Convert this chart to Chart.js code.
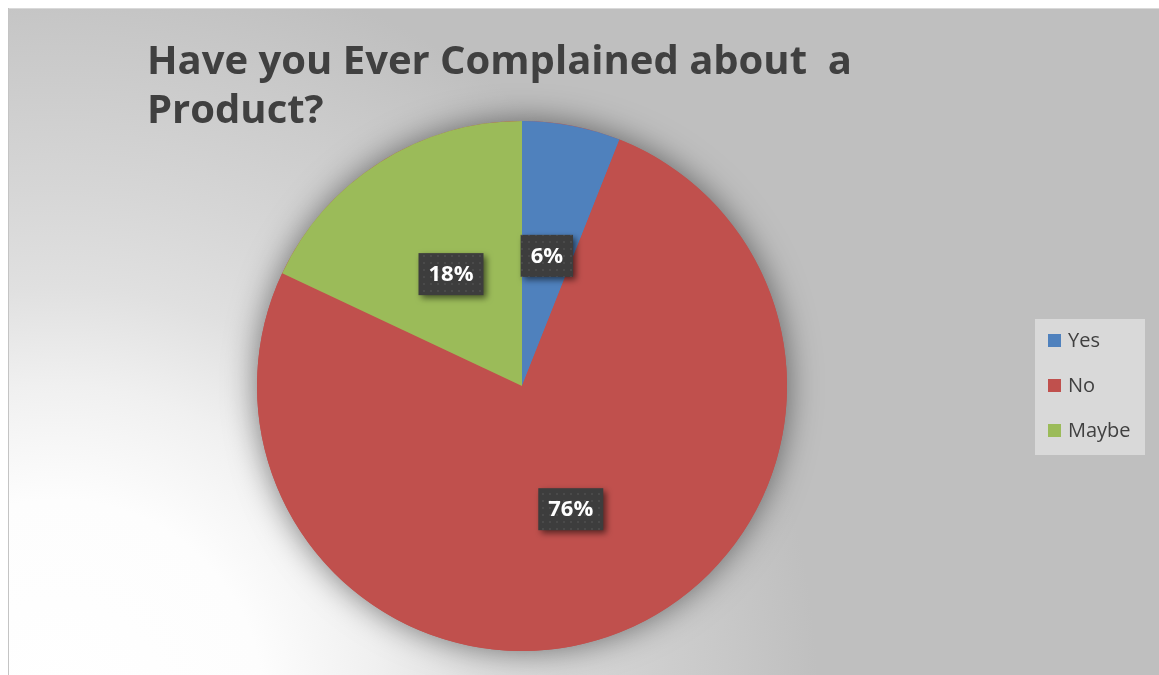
<!DOCTYPE html>
<html>
<head>
<meta charset="utf-8">
<title>Have you Ever Complained about a Product?</title>
<script src="https://cdn.jsdelivr.net/npm/chart.js@4.4.1/dist/chart.umd.min.js"></script>
<style>
  html, body { margin: 0; padding: 0; background: #fff; }
  #wrap { position: absolute; left: 8px; top: 8px; width: 1151px; height: 667px; }
</style>
</head>
<body>
<div id="wrap"><canvas id="chartCanvas"></canvas></div>
<script>
// survey answers
const categories = ['Yes', 'No', 'Maybe'];
const responses = [6, 76, 18];
const sliceColors = ['#4F81BD', '#C0504D', '#9BBB59'];
const titleLines = ['Have you Ever Complained about  a', 'Product?'];

const FONT = '"Open Sans", "Liberation Sans", sans-serif';
const TEXT_COLOR = '#404040';

// grey panel fading to white towards the lower left corner
const panelBackground = {
  id: 'panelBackground',
  beforeDraw(chart) {
    const { ctx, width, height } = chart;
    ctx.save();
    const g = ctx.createRadialGradient(50, height + 30, 0, 50, height + 30, 760);
    g.addColorStop(0, '#ffffff');
    g.addColorStop(0.27, '#fdfdfd');
    g.addColorStop(0.42, '#f0f0f0');
    g.addColorStop(0.55, '#e0e0e0');
    g.addColorStop(0.68, '#d6d6d6');
    g.addColorStop(0.88, '#c8c8c8');
    g.addColorStop(1, '#bfbfbf');
    ctx.fillStyle = g;
    ctx.fillRect(0, 0, width, height);
    ctx.fillStyle = '#d9d9d9';
    ctx.fillRect(0, 0, width, 1);
    ctx.fillStyle = '#c4c4c4';
    ctx.fillRect(0, 0, 1, height);
    ctx.restore();
  }
};

// soft glow under the whole pie
const pieShadow = {
  id: 'pieShadow',
  beforeDatasetsDraw(chart) {
    const arc = chart.getDatasetMeta(0).data[0];
    if (!arc) return;
    const { ctx } = chart;
    ctx.save();
    ctx.shadowColor = 'rgba(0,0,0,0.5)';
    ctx.shadowBlur = 32;
    ctx.fillStyle = sliceColors[1];
    ctx.beginPath();
    ctx.arc(arc.x, arc.y, arc.outerRadius, 0, Math.PI * 2);
    ctx.fill();
    ctx.restore();
  }
};

function dotPattern(ctx) {
  const tile = document.createElement('canvas');
  tile.width = 7;
  tile.height = 7;
  const t = tile.getContext('2d');
  t.fillStyle = '#3d3d3d';
  t.fillRect(0, 0, 7, 7);
  t.fillStyle = '#4a4a4a';
  t.fillRect(2, 2, 2, 2);
  return ctx.createPattern(tile, 'repeat');
}

// percentage tags in dark boxes
const valueBoxes = {
  id: 'valueBoxes',
  afterDatasetsDraw(chart) {
    const { ctx } = chart;
    const data = chart.data.datasets[0].data;
    const total = data.reduce((a, b) => a + b, 0);
    const fill = dotPattern(ctx);
    ctx.save();
    ctx.font = 'bold 22px ' + FONT;
    ctx.textAlign = 'center';
    ctx.textBaseline = 'middle';
    chart.getDatasetMeta(0).data.forEach((arc, i) => {
      const { x, y } = arc.tooltipPosition();
      const label = Math.round(data[i] / total * 100) + '%';
      const w = ctx.measureText(label).width + 20;
      const h = 42;
      ctx.save();
      ctx.shadowColor = 'rgba(0,0,0,0.55)';
      ctx.shadowBlur = 6;
      ctx.shadowOffsetX = 3;
      ctx.shadowOffsetY = 3;
      ctx.fillStyle = fill;
      ctx.fillRect(x - w / 2, y - h / 2, w, h);
      ctx.restore();
      ctx.fillStyle = '#ffffff';
      ctx.fillText(label, x, y + 1);
    });
    ctx.restore();
  }
};

const chartTitle = {
  id: 'chartTitle',
  afterDraw(chart) {
    const { ctx } = chart;
    ctx.save();
    ctx.font = 'bold 40px ' + FONT;
    ctx.fillStyle = TEXT_COLOR;
    ctx.textBaseline = 'alphabetic';
    titleLines.forEach((line, i) => ctx.fillText(line, 139, 66 + i * 49));
    ctx.restore();
  }
};

// legend in a light box on the right, centred on the pie
const sideLegend = {
  id: 'sideLegend',
  afterDraw(chart) {
    const { ctx, chartArea } = chart;
    const cy = (chartArea.top + chartArea.bottom) / 2;
    ctx.save();
    ctx.fillStyle = '#d9d9d9';
    ctx.fillRect(1027, cy - 67, 110, 136);
    ctx.font = '20px ' + FONT;
    ctx.textBaseline = 'middle';
    chart.data.labels.forEach((label, i) => {
      const y = cy + (i - 1) * 45;
      ctx.fillStyle = chart.data.datasets[0].backgroundColor[i];
      ctx.fillRect(1040, y - 7, 13, 13);
      ctx.fillStyle = TEXT_COLOR;
      ctx.fillText(label, 1060, y);
    });
    ctx.restore();
  }
};

const chart = new Chart(document.getElementById('chartCanvas'), {
  type: 'pie',
  data: {
    labels: categories,
    datasets: [{
      data: responses,
      backgroundColor: sliceColors,
      borderWidth: 0,
      radius: 265
    }]
  },
  options: {
    responsive: true,
    maintainAspectRatio: false,
    animation: false,
    events: [],
    layout: { padding: { left: 0, right: 123, top: 89, bottom: 0 } },
    plugins: {
      legend: { display: false },
      tooltip: { enabled: false },
      title: { display: false }
    }
  },
  plugins: [panelBackground, pieShadow, valueBoxes, chartTitle, sideLegend]
});
</script>
</body>
</html>
